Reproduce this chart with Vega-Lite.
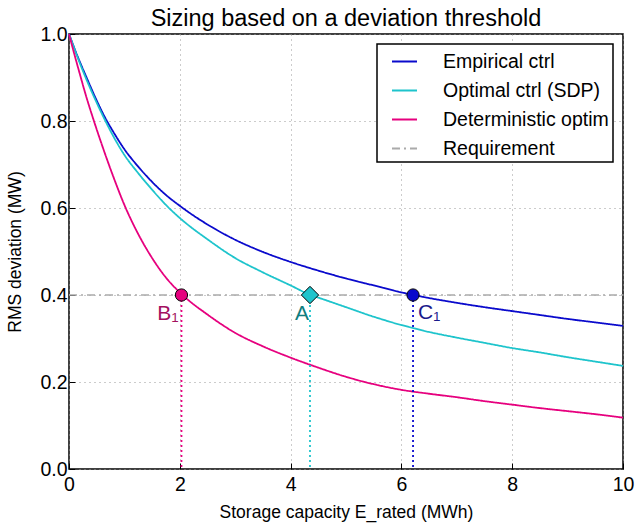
{
  "$schema": "https://vega.github.io/schema/vega-lite/v6.json",
  "width": 554,
  "height": 435,
  "autosize": {"type": "none"},
  "padding": {"left": 69, "top": 34, "right": 14, "bottom": 54},
  "title": {"text": "Sizing based on a deviation threshold", "fontSize": 23.5, "font": "Liberation Sans", "fontWeight": "normal", "color": "black", "offset": -6, "anchor": "middle"},
  "config": {
    "font": "Liberation Sans",
    "view": {"stroke": "black", "strokeWidth": 1.5},
    "axis": {"labelFont": "Liberation Sans", "labelFontSize": 19.5, "labelColor": "black", "labelFlush": false, "titleFont": "Liberation Sans", "titleFontSize": 17.5, "titleFontWeight": "normal", "titleColor": "black", "tickColor": "black", "tickWidth": 1, "domain": false, "gridColor": "#999999", "gridDash": [1, 4], "gridWidth": 1},
    "legend": {"orient": "top-right", "offset": 10, "strokeColor": "black", "strokeWidth": 1.5, "fillColor": "white", "padding": 4, "cornerRadius": 0, "symbolType": "stroke", "symbolStrokeWidth": 1.8, "symbolSize": 625, "symbolOffset": 10, "labelFont": "Liberation Sans", "labelFontSize": 19.5, "labelColor": "black", "labelOffset": 25, "labelLimit": 400, "rowPadding": 6}
  },
  "datasets": {
    "req": [
      {"series": "Requirement", "x": 0, "y": 0.4},
      {"series": "Requirement", "x": 10, "y": 0.4}
    ],
    "curves": [
      {"series": "Empirical ctrl", "x": 0, "y": 1.0},
      {"series": "Empirical ctrl", "x": 0.15, "y": 0.95},
      {"series": "Empirical ctrl", "x": 0.3, "y": 0.905},
      {"series": "Empirical ctrl", "x": 0.5, "y": 0.847},
      {"series": "Empirical ctrl", "x": 0.65, "y": 0.808},
      {"series": "Empirical ctrl", "x": 0.8, "y": 0.775},
      {"series": "Empirical ctrl", "x": 1.0, "y": 0.735},
      {"series": "Empirical ctrl", "x": 1.25, "y": 0.695},
      {"series": "Empirical ctrl", "x": 1.5, "y": 0.66},
      {"series": "Empirical ctrl", "x": 1.75, "y": 0.63},
      {"series": "Empirical ctrl", "x": 2.0, "y": 0.605},
      {"series": "Empirical ctrl", "x": 2.5, "y": 0.562},
      {"series": "Empirical ctrl", "x": 3.0, "y": 0.527},
      {"series": "Empirical ctrl", "x": 3.5, "y": 0.499},
      {"series": "Empirical ctrl", "x": 4.0, "y": 0.476},
      {"series": "Empirical ctrl", "x": 4.5, "y": 0.456},
      {"series": "Empirical ctrl", "x": 5.0, "y": 0.438},
      {"series": "Empirical ctrl", "x": 5.5, "y": 0.422},
      {"series": "Empirical ctrl", "x": 6.0, "y": 0.406},
      {"series": "Empirical ctrl", "x": 6.5, "y": 0.393},
      {"series": "Empirical ctrl", "x": 7.0, "y": 0.382},
      {"series": "Empirical ctrl", "x": 7.5, "y": 0.372},
      {"series": "Empirical ctrl", "x": 8.0, "y": 0.363},
      {"series": "Empirical ctrl", "x": 8.5, "y": 0.354},
      {"series": "Empirical ctrl", "x": 9.0, "y": 0.345},
      {"series": "Empirical ctrl", "x": 9.5, "y": 0.337},
      {"series": "Empirical ctrl", "x": 10, "y": 0.329},
      {"series": "Optimal ctrl (SDP)", "x": 0, "y": 1.0},
      {"series": "Optimal ctrl (SDP)", "x": 0.15, "y": 0.948},
      {"series": "Optimal ctrl (SDP)", "x": 0.3, "y": 0.9},
      {"series": "Optimal ctrl (SDP)", "x": 0.5, "y": 0.842},
      {"series": "Optimal ctrl (SDP)", "x": 0.65, "y": 0.802},
      {"series": "Optimal ctrl (SDP)", "x": 0.8, "y": 0.765},
      {"series": "Optimal ctrl (SDP)", "x": 1.0, "y": 0.722},
      {"series": "Optimal ctrl (SDP)", "x": 1.25, "y": 0.68},
      {"series": "Optimal ctrl (SDP)", "x": 1.5, "y": 0.642},
      {"series": "Optimal ctrl (SDP)", "x": 1.75, "y": 0.607},
      {"series": "Optimal ctrl (SDP)", "x": 2.0, "y": 0.577},
      {"series": "Optimal ctrl (SDP)", "x": 2.5, "y": 0.528},
      {"series": "Optimal ctrl (SDP)", "x": 3.0, "y": 0.485},
      {"series": "Optimal ctrl (SDP)", "x": 3.5, "y": 0.452},
      {"series": "Optimal ctrl (SDP)", "x": 4.0, "y": 0.422},
      {"series": "Optimal ctrl (SDP)", "x": 4.36, "y": 0.4},
      {"series": "Optimal ctrl (SDP)", "x": 4.5, "y": 0.394},
      {"series": "Optimal ctrl (SDP)", "x": 5.0, "y": 0.372},
      {"series": "Optimal ctrl (SDP)", "x": 5.5, "y": 0.35},
      {"series": "Optimal ctrl (SDP)", "x": 6.0, "y": 0.331},
      {"series": "Optimal ctrl (SDP)", "x": 6.5, "y": 0.315},
      {"series": "Optimal ctrl (SDP)", "x": 7.0, "y": 0.302},
      {"series": "Optimal ctrl (SDP)", "x": 7.5, "y": 0.29},
      {"series": "Optimal ctrl (SDP)", "x": 8.0, "y": 0.278},
      {"series": "Optimal ctrl (SDP)", "x": 8.5, "y": 0.268},
      {"series": "Optimal ctrl (SDP)", "x": 9.0, "y": 0.257},
      {"series": "Optimal ctrl (SDP)", "x": 9.5, "y": 0.247},
      {"series": "Optimal ctrl (SDP)", "x": 10, "y": 0.237},
      {"series": "Deterministic optim", "x": 0, "y": 1.0},
      {"series": "Deterministic optim", "x": 0.1, "y": 0.952},
      {"series": "Deterministic optim", "x": 0.2, "y": 0.906},
      {"series": "Deterministic optim", "x": 0.3, "y": 0.861},
      {"series": "Deterministic optim", "x": 0.45, "y": 0.8},
      {"series": "Deterministic optim", "x": 0.6, "y": 0.743},
      {"series": "Deterministic optim", "x": 0.8, "y": 0.672},
      {"series": "Deterministic optim", "x": 1.0, "y": 0.607},
      {"series": "Deterministic optim", "x": 1.25, "y": 0.54},
      {"series": "Deterministic optim", "x": 1.5, "y": 0.485},
      {"series": "Deterministic optim", "x": 1.75, "y": 0.44},
      {"series": "Deterministic optim", "x": 2.05, "y": 0.4},
      {"series": "Deterministic optim", "x": 2.5, "y": 0.355},
      {"series": "Deterministic optim", "x": 3.0, "y": 0.313},
      {"series": "Deterministic optim", "x": 3.5, "y": 0.282},
      {"series": "Deterministic optim", "x": 4.0, "y": 0.256},
      {"series": "Deterministic optim", "x": 4.5, "y": 0.233},
      {"series": "Deterministic optim", "x": 5.0, "y": 0.212},
      {"series": "Deterministic optim", "x": 5.5, "y": 0.195},
      {"series": "Deterministic optim", "x": 6.0, "y": 0.182},
      {"series": "Deterministic optim", "x": 6.5, "y": 0.173},
      {"series": "Deterministic optim", "x": 7.0, "y": 0.165},
      {"series": "Deterministic optim", "x": 7.5, "y": 0.156},
      {"series": "Deterministic optim", "x": 8.0, "y": 0.148},
      {"series": "Deterministic optim", "x": 8.5, "y": 0.14},
      {"series": "Deterministic optim", "x": 9.0, "y": 0.133},
      {"series": "Deterministic optim", "x": 9.5, "y": 0.126},
      {"series": "Deterministic optim", "x": 10, "y": 0.118}
    ],
    "points": [
      {"series": "Deterministic optim", "label": "B₁", "x": 2.03, "y": 0.4},
      {"series": "Optimal ctrl (SDP)", "label": "A", "x": 4.35, "y": 0.4},
      {"series": "Empirical ctrl", "label": "C₁", "x": 6.21, "y": 0.4}
    ]
  },
  "layer": [
    {
      "data": {"name": "req"},
      "mark": {"type": "line", "strokeWidth": 1.5},
      "encoding": {
        "x": {"field": "x", "type": "quantitative", "scale": {"domain": [0, 10], "nice": false, "zero": false},
              "axis": {"values": [0, 2, 4, 6, 8, 10], "grid": true, "tickSize": -6, "labelPadding": 12, "title": "Storage capacity E_rated (MWh)", "titlePadding": 10}},
        "y": {"field": "y", "type": "quantitative", "scale": {"domain": [0, 1], "nice": false},
              "axis": {"values": [0, 0.2, 0.4, 0.6, 0.8, 1.0], "format": ".1f", "grid": true, "tickSize": -6, "labelPadding": 8, "title": "RMS deviation (MW)", "titlePadding": 15}},
        "color": {"field": "series", "type": "nominal", "title": null,
                  "scale": {"domain": ["Empirical ctrl", "Optimal ctrl (SDP)", "Deterministic optim", "Requirement"], "range": ["#0a0acc", "#1ec4cc", "#e6007e", "#aaaaaa"]}},
        "strokeDash": {"field": "series", "type": "nominal", "title": null,
                  "scale": {"domain": ["Empirical ctrl", "Optimal ctrl (SDP)", "Deterministic optim", "Requirement"], "range": [[1, 0], [1, 0], [1, 0], [8, 4, 2, 4]]}}
      }
    },
    {
      "data": {"name": "curves"},
      "mark": {"type": "line", "strokeWidth": 1.8, "interpolate": "monotone"},
      "encoding": {
        "x": {"field": "x", "type": "quantitative"},
        "y": {"field": "y", "type": "quantitative"},
        "color": {"field": "series", "type": "nominal", "title": null},
        "strokeDash": {"field": "series", "type": "nominal", "title": null}
      }
    },
    {
      "data": {"name": "points"},
      "mark": {"type": "rule", "strokeWidth": 1.8, "strokeDash": [2, 3]},
      "encoding": {
        "x": {"field": "x", "type": "quantitative"},
        "y": {"field": "y", "type": "quantitative"},
        "y2": {"datum": 0},
        "color": {"field": "series", "type": "nominal", "title": null}
      }
    },
    {
      "data": {"name": "points"},
      "transform": [{"filter": "datum.label != 'A'"}],
      "mark": {"type": "point", "shape": "circle", "filled": false, "size": 150, "stroke": "black", "strokeWidth": 1, "opacity": 1},
      "encoding": {
        "x": {"field": "x", "type": "quantitative"},
        "y": {"field": "y", "type": "quantitative"},
        "fill": {"field": "series", "type": "nominal", "legend": null,
                 "scale": {"domain": ["Empirical ctrl", "Optimal ctrl (SDP)", "Deterministic optim"], "range": ["#0a0acc", "#1ec4cc", "#e6007e"]}}
      }
    },
    {
      "data": {"name": "points"},
      "transform": [{"filter": "datum.label == 'A'"}],
      "mark": {"type": "point", "shape": "diamond", "filled": false, "size": 300, "stroke": "black", "strokeWidth": 1, "opacity": 1},
      "encoding": {
        "x": {"field": "x", "type": "quantitative"},
        "y": {"field": "y", "type": "quantitative"},
        "fill": {"field": "series", "type": "nominal", "legend": null}
      }
    },
    {
      "data": {"name": "points"},
      "transform": [{"filter": "datum.label == 'B₁'"}],
      "mark": {"type": "text", "fontSize": 21, "align": "right", "baseline": "middle", "dx": -3, "dy": 19, "color": "#a3105f"},
      "encoding": {
        "x": {"field": "x", "type": "quantitative"},
        "y": {"field": "y", "type": "quantitative"},
        "text": {"field": "label"}
      }
    },
    {
      "data": {"name": "points"},
      "transform": [{"filter": "datum.label == 'A'"}],
      "mark": {"type": "text", "fontSize": 21, "align": "right", "baseline": "middle", "dx": -1, "dy": 19, "color": "#0f7d80"},
      "encoding": {
        "x": {"field": "x", "type": "quantitative"},
        "y": {"field": "y", "type": "quantitative"},
        "text": {"field": "label"}
      }
    },
    {
      "data": {"name": "points"},
      "transform": [{"filter": "datum.label == 'C₁'"}],
      "mark": {"type": "text", "fontSize": 21, "align": "left", "baseline": "middle", "dx": 5, "dy": 18, "color": "#1a1a8c"},
      "encoding": {
        "x": {"field": "x", "type": "quantitative"},
        "y": {"field": "y", "type": "quantitative"},
        "text": {"field": "label"}
      }
    }
  ]
}
